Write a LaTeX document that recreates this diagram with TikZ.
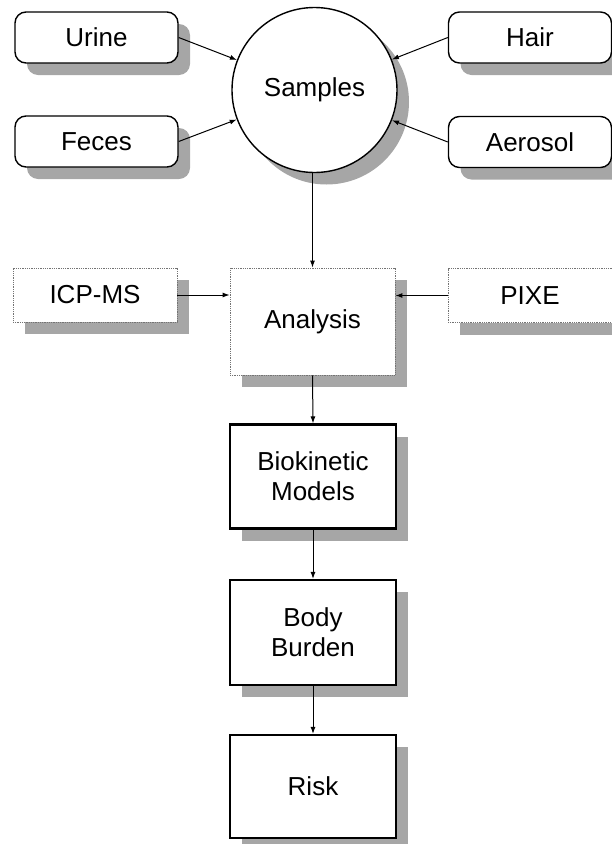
\documentclass[tikz,border=0pt]{standalone}
\usepackage{fontspec}
\setmainfont{Liberation Sans}
\usetikzlibrary{shadows,arrows.meta}
\begin{document}
\begin{tikzpicture}[x=1pt,y=-1pt,
  base/.style={font=\fontsize{26}{30}\selectfont, align=center, inner sep=0pt, fill=white,
    general shadow={fill=black!35, shadow xshift=12pt, shadow yshift=-12pt}},
  roundbox/.style={base, draw=black, line width=1.4pt, rounded corners=11pt,
    minimum width=163pt, minimum height=51pt},
  softbox/.style={base, draw=black!55, densely dotted, line width=0.8pt,
    minimum width=164pt, minimum height=54pt},
  boldbox/.style={base, draw=black, line width=2.2pt,
    minimum width=166pt, minimum height=104pt},
  conn/.style={line width=1pt, -{Latex[length=7pt,width=5pt]}}
]
\useasboundingbox (0,0) rectangle (612,844);

\node[base, circle, draw=black, line width=1.4pt, minimum size=165pt] (samples) at (314.5,90) {Samples};

\node[roundbox] (urine) at (96.5,37.5) {Urine};
\node[roundbox] (feces) at (96.5,141.5) {Feces};
\node[roundbox] (hair) at (530,37.5) {Hair};
\node[roundbox] (aerosol) at (530,142) {Aerosol};

\node[softbox] (icp) at (95,295) {ICP-MS};
\node[softbox] (pixe) at (530,295.5) {PIXE};
\node[softbox, minimum width=165pt, minimum height=107pt] (analysis) at (312.5,321.5) {Analysis};

\node[boldbox] (bio) at (313,476.5) {Biokinetic\\Models};
\node[boldbox, minimum height=105pt] (body) at (313,632.5) {Body\\Burden};
\node[boldbox, minimum height=103pt] (risk) at (313,786.5) {Risk};

\draw[conn] (urine.east) -- (samples);
\draw[conn] (feces.east) -- (samples);
\draw[conn] (hair.west) -- (samples);
\draw[conn] (aerosol.west) -- (samples);
\draw[conn] (samples.south -| analysis.north) -- (analysis.north);
\draw[conn] (icp.east) -- (icp.east -| analysis.west);
\draw[conn] (pixe.west) -- (pixe.west -| analysis.east);
\draw[conn] (analysis.south) -- (bio.north);
\draw[conn] (bio.south) -- (body.north);
\draw[conn] (body.south) -- (risk.north);
\end{tikzpicture}
\end{document}
